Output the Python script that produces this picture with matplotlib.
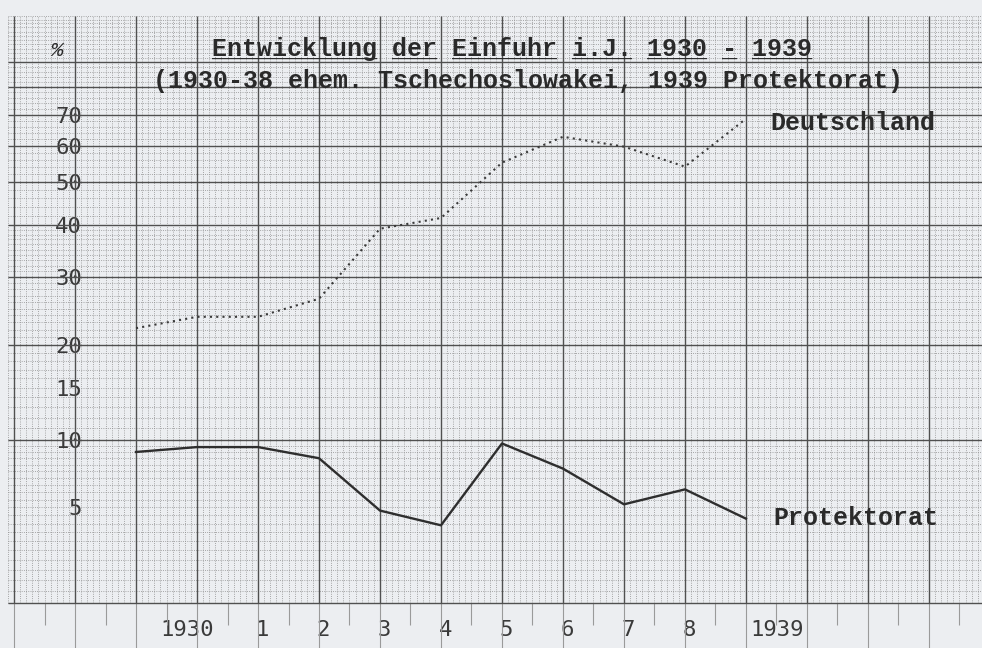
import numpy as np
import matplotlib.pyplot as plt
from matplotlib.transforms import ScaledTranslation

# values (% of total imports)
years = [1929, 1930, 1931, 1932, 1933, 1934, 1935, 1936, 1937, 1938, 1939]
deutschland = [22.2, 23.8, 23.8, 26.5, 39.2, 41.5, 55.2, 62.8, 59.8, 54.1, 68.6]
protektorat = [9.0, 9.4, 9.4, 8.5, 4.8, 3.9, 9.7, 7.7, 5.2, 6.2, 4.3]

year_ticks = [1930, 1931, 1932, 1933, 1934, 1935, 1936, 1937, 1938, 1939]
year_labels = ['1930', '1', '2', '3', '4', '5', '6', '7', '8', '1939']
pct_ticks = [5, 10, 15, 20, 30, 40, 50, 60, 70]
pct_labels = ['5', '10', '15', '20', '30', '40', '50', '60', '70']

title_1 = 'Entwicklung der Einfuhr i.J. 1930 - 1939'
title_2 = '(1930-38 ehem. Tschechoslowakei, 1939 Protektorat)'

W, H = 982, 648
paper = '#eceef1'
ink = '#2a2a2a'
typewriter = ['Liberation Mono', 'DejaVu Sans Mono']


# the paper is log ruled, the typed labels sit 10 units below the printed lines
def fwd(v):
    return np.log10(np.clip(np.asarray(v, dtype=float) + 10, 1e-3, None))


def inv(y):
    return 10 ** np.asarray(y, dtype=float) - 10


fig = plt.figure(figsize=(W / 100, H / 100), dpi=100, facecolor=paper)
ax = fig.add_axes([0, 0, 1, 1])
ax.set_facecolor(paper)
ax.set_yscale('function', functions=(fwd, inv))
ax.set_xlim(1926.77, 1942.87)
ax.set_ylim(-1.76, 120.4)
for s in ax.spines.values():
    s.set_visible(False)

# graph paper
x0, x1 = 1926.9, 1942.95
v_top = 112
major_x = np.arange(1927, 1943)
minor_x = np.round(np.arange(x0, x1, 0.1), 2)
minor_x = minor_x[~np.isclose(minor_x % 1, 0) & ~np.isclose(minor_x % 1, 1)]
ax.vlines(minor_x, 0, v_top, colors='#8e8e8e', linestyles=':', lw=0.6, zorder=1)
ax.vlines(major_x, 0, v_top, colors='#505050', lw=1.0, zorder=2)
ax.vlines(major_x, -1.76, 0, colors='#9a9a9a', lw=0.8, zorder=2)
ax.vlines(np.arange(1926.5, 1943, 1), -0.9, 0, colors='#9a9a9a', lw=0.8, zorder=2)

u_minor = np.concatenate([np.arange(10, 20, 0.5), np.arange(20, 50, 1), np.arange(50, 123, 2)])
ax.hlines(u_minor - 10, x0, x1, colors='#8e8e8e', linestyles=':', lw=0.6, zorder=1)
ax.hlines(np.arange(10, 101, 10) - 10, x0, x1, colors='#505050', lw=1.0, zorder=2)

# series
ax.plot(years, deutschland, color='#3a3a3a', lw=1.5, linestyle=(0, (1, 2)), zorder=4)
ax.plot(years, protektorat, color='#2e2e2e', lw=1.7, zorder=4)

# axis labels typed on the paper
ax.set_yticks(pct_ticks, pct_labels)
ax.set_xticks(year_ticks, year_labels)
ax.minorticks_off()
ax.tick_params(axis='y', length=0, pad=-59, labelsize=16, labelcolor='#3a3a3a')
ax.tick_params(axis='x', length=0, pad=-20, labelsize=16, labelcolor='#3a3a3a')
for lab in ax.get_yticklabels() + ax.get_xticklabels():
    lab.set_family(['DejaVu Sans Mono'])
    lab.set_zorder(5)
shift = ScaledTranslation(3 / 72, 0, fig.dpi_scale_trans)
for lab in ax.get_xticklabels():
    lab.set_transform(lab.get_transform() + shift)
first = ax.get_xticklabels()[0]
first.set_transform(first.get_transform() + ScaledTranslation(-10 / 72, 0, fig.dpi_scale_trans))
ax.get_xticklabels()[-1].set_horizontalalignment('left')

fig.text(57 / W, 1 - 50 / H, '%', fontsize=15, color=ink, family=typewriter,
         ha='center', va='center', style='italic')
fig.text(512 / W, 1 - 56 / H, title_1, fontsize=18, color=ink, family=typewriter,
         weight='bold', ha='center', va='baseline')
underline = ''.join('_' if c != ' ' else ' ' for c in title_1)
fig.text(512 / W, 1 - 56 / H, underline, fontsize=18, color=ink, family=typewriter,
         weight='bold', ha='center', va='baseline')
fig.text(528 / W, 1 - 88 / H, title_2, fontsize=18, color=ink, family=typewriter,
         weight='bold', ha='center', va='baseline')
fig.text(770 / W, 1 - 123 / H, 'Deutschland', fontsize=18, color=ink, family=typewriter,
         weight='bold', ha='left', va='center')
fig.text(773 / W, 1 - 518 / H, 'Protektorat', fontsize=18, color=ink, family=typewriter,
         weight='bold', ha='left', va='center')

fig.savefig('out.png', dpi=100, facecolor=paper)
